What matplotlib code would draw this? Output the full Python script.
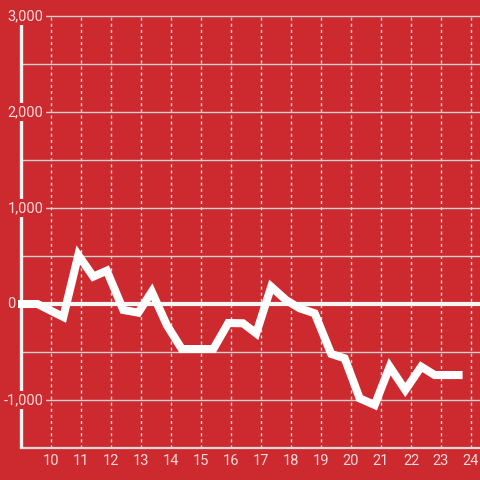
import matplotlib.pyplot as plt
import numpy as np

# values
hours = [8.9, 9.55, 10.41, 10.91, 11.41, 11.86, 12.41, 12.91, 13.36, 13.86,
         14.36, 14.86, 15.41, 15.91, 16.4, 16.84, 17.34, 17.84, 18.29, 18.79,
         19.34, 19.79, 20.29, 20.79, 21.29, 21.81, 22.34, 22.79, 23.3, 23.72]
values = [0, 0, -135, 510, 285, 347, -62, -90, 128, -219,
          -469, -469, -469, -198, -201, -306, 180, 40, -45, -97,
          -520, -566, -983, -1052, -653, -896, -653, -740, -740, -740]

x_ticks = list(range(10, 25))
y_ticks = [-1000, 0, 1000, 2000, 3000]
y_grid = [-1000, -500, 500, 1000, 1500, 2000, 2500, 3000]

bg = '#cd2a2f'
label_color = '#f3dada'

fig = plt.figure(figsize=(4.8, 4.8), dpi=100)
fig.patch.set_facecolor(bg)
ax = fig.add_axes([0, 0, 1, 1])
ax.set_facecolor(bg)
ax.set_axis_off()
ax.set_xlim(8.3, 24.3)
ax.set_ylim(-1833.3, 3166.7)

# grid
for t in x_ticks:
    ax.plot([t, t], [-1500, 3000], color='#e6e0e0', lw=1, linestyle=(0, (2.2, 2.2)), zorder=1)
for v in y_grid:
    ax.plot([9, 24.3], [v, v], color='#d8d0d0', lw=1, zorder=1)

# axes lines
ax.plot([9, 24.3], [-1500, -1500], color='#e2dada', lw=1.6, zorder=2)
ax.plot([9, 9], [-1500, 3000], color='#f2f2f2', lw=2.4, solid_capstyle='butt', zorder=3)
ax.plot([9, 24.3], [0, 0], color='#f6f6f6', lw=3, zorder=3)

# data
ax.plot(hours, values, color='white', lw=5.8, solid_joinstyle='miter',
        solid_capstyle='butt', zorder=4)

# labels
for v in y_ticks:
    if v == 0:
        ax.text(8.55, v, '0', ha='left', va='center', color=label_color,
                fontsize=10.5, family='Roboto', zorder=5)
        continue
    ax.text(9.75, v, f'{v:,}', ha='right', va='center', color=label_color,
            fontsize=10.5, family='Roboto', zorder=5,
            bbox=dict(facecolor=bg, edgecolor='none', pad=1.5))
for t in x_ticks:
    ax.text(t, -1635, str(t), ha='center', va='center', color=label_color,
            fontsize=10.5, family='Roboto', zorder=5)

fig.savefig('out.png', dpi=100, facecolor=bg)
